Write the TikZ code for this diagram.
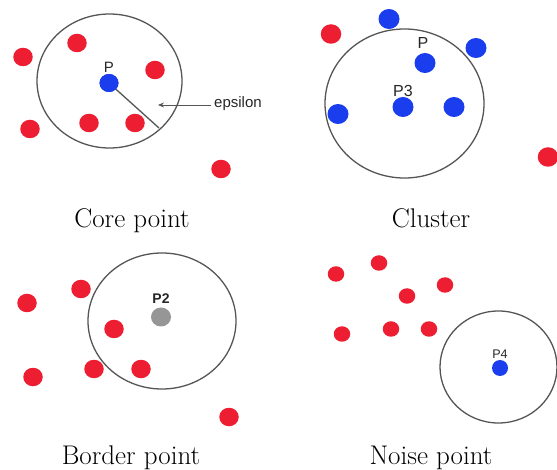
\documentclass[tikz,border=0pt]{standalone}
\usepackage{fontspec}
\newfontfamily\labelfont{Liberation Sans}
\usetikzlibrary{shapes.geometric,arrows.meta}
\definecolor{ptred}{RGB}{238,30,50}
\definecolor{ptblue}{RGB}{26,62,238}
\definecolor{ptgrey}{RGB}{150,150,150}
\definecolor{rimgrey}{RGB}{85,85,85}
\tikzset{
  dotbase/.style={ellipse, inner sep=0pt, draw=none},
  reddot/.style={dotbase, fill=ptred, minimum width=19.5pt, minimum height=18.5pt},
  smallred/.style={dotbase, fill=ptred, minimum width=16.5pt, minimum height=15.5pt},
  bluedot/.style={dotbase, fill=ptblue, minimum width=19pt, minimum height=18pt},
  bigblue/.style={dotbase, fill=ptblue, minimum width=21pt, minimum height=20pt},
  smallblue/.style={dotbase, fill=ptblue, minimum width=16pt, minimum height=16pt},
  greydot/.style={dotbase, fill=ptgrey, minimum width=20pt, minimum height=19pt},
  nbhd/.style={ellipse, draw=rimgrey, line width=1.3pt, inner sep=0pt},
  lbl/.style={font=\labelfont\fontsize{15}{17}\selectfont, text=black!85, inner sep=0pt},
  caption/.style={font=\fontsize{27}{31}\selectfont, anchor=base, inner sep=0pt},
  pointer/.style={draw=rimgrey, line width=0.8pt, -{Stealth[length=6pt,width=5pt]}},
  radius/.style={draw=rimgrey, line width=1.3pt}
}
\begin{document}
\begin{tikzpicture}[x=1pt,y=-1pt]
\useasboundingbox (0,0) rectangle (557,470);

% ---- Core point ----
\node[nbhd, minimum width=145pt, minimum height=134pt] (c1) at (109.5,81) {};
\coordinate (rim1) at (159,128);
\node[bluedot] (p) at (109,83) {};
\draw[radius] (p.center) -- (rim1);
\node[bluedot] at (109,83) {};
\node[lbl] (pl) at (109,67) {P};
\node[reddot] (a1) at (77,43) {};
\node[reddot] (a2) at (155,70) {};
\node[reddot] (a3) at (23,57) {};
\node[reddot] (a4) at (30,129) {};
\node[reddot] (a5) at (89,123) {};
\node[reddot] (a6) at (135,123) {};
\node[reddot] (a7) at (221,169) {};
\node[lbl, anchor=west] (eps) at (214,104) {epsilon};
\coordinate (epstip) at (158,105);
\draw[pointer] ([xshift=-3pt]eps.west |- epstip) -- (epstip);
\node[caption] (cap1) at (132,228) {Core point};

% ---- Cluster ----
\node[nbhd, minimum width=159pt, minimum height=149pt] (c2) at (404.5,103.5) {};
\node[bigblue] (b1) at (389,19) {};
\node[bigblue] (b2) at (476,48) {};
\node[bigblue] (b3) at (425,63) {};
\node[bigblue] (b4) at (403,107) {};
\node[bigblue] (b5) at (454,107) {};
\node[bigblue] (b6) at (338,114) {};
\node[reddot, minimum width=20.5pt, minimum height=19.5pt] (r1) at (331,34) {};
\node[reddot, minimum width=20.5pt, minimum height=19.5pt] (r2) at (548,157) {};
\node[lbl, font=\labelfont\fontsize{16}{18}\selectfont] (bl) at (423,43) {P};
\node[lbl, font=\labelfont\fontsize{16}{18}\selectfont] (p3l) at (403,91) {P3};
\node[caption] (cap2) at (431,228) {Cluster};

% ---- Border point ----
\node[nbhd, minimum width=148pt, minimum height=136pt] (c3) at (162,321) {};
\node[greydot] (p2) at (161,317) {};
\node[lbl, font=\labelfont\bfseries\fontsize{14}{16}\selectfont] (p2l) at (161,299) {P2};
\node[reddot] (d1) at (81,289) {};
\node[reddot] (d2) at (27,303) {};
\node[reddot] (d3) at (114,329) {};
\node[reddot] (d4) at (94,369) {};
\node[reddot] (d5) at (141,369) {};
\node[reddot] (d6) at (33,377) {};
\node[reddot] (d7) at (229,417) {};
\node[caption] (cap3) at (131,464) {Border point};

% ---- Noise point ----
\node[nbhd, minimum width=117pt, minimum height=112pt] (c4) at (498.5,367) {};
\node[smallblue] (p4) at (500,368) {};
\node[lbl, font=\labelfont\fontsize{12.5}{14}\selectfont] (p4l) at (500,354) {P4};
\node[smallred] (n1) at (336,274) {};
\node[smallred] (n2) at (379,263) {};
\node[smallred] (n3) at (445,285) {};
\node[smallred] (n4) at (407,296) {};
\node[smallred] (n5) at (342,334) {};
\node[smallred] (n6) at (391,329) {};
\node[smallred] (n7) at (429,329) {};
\node[caption] (cap4) at (431,464) {Noise point};
\end{tikzpicture}
\end{document}
